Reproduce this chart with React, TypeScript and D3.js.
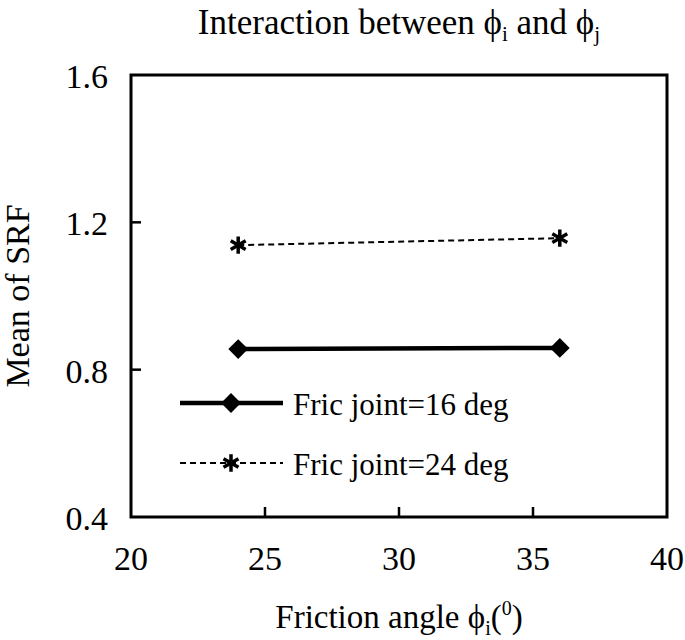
import React, { useRef, useEffect } from 'react';
import * as d3 from 'd3';

const frictionAngles = [24, 36];
const joint16 = [0.856, 0.859];
const joint24 = [1.138, 1.157];
const xTicks = [20, 25, 30, 35, 40];
const yTicks = [0.4, 0.8, 1.2, 1.6];
const seriesNames = ['Fric joint=16 deg', 'Fric joint=24 deg'];

const App = () => {
    const svgRef = useRef<SVGSVGElement>(null);

    const totalWidth = 685;
    const totalHeight = 640;
    const margin = { top: 75, right: 18, bottom: 123, left: 131 };
    const width = totalWidth - margin.left - margin.right;
    const height = totalHeight - margin.top - margin.bottom;
    const font = '"Liberation Serif", "Times New Roman", serif';

    useEffect(() => {
        document.body.style.margin = '0';
        const svg = d3.select(svgRef.current);
        svg.selectAll('*').remove();

        const x = d3.scaleLinear().domain([20, 40]).range([0, width]);
        const y = d3.scaleLinear().domain([0.4, 1.6]).range([height, 0]);

        const g = svg.append('g')
            .attr('transform', `translate(${margin.left}, ${margin.top})`);

        // frame
        g.append('rect')
            .attr('width', width)
            .attr('height', height)
            .attr('fill', 'none')
            .attr('stroke', '#000')
            .attr('stroke-width', 3);

        // inner ticks
        g.selectAll('.xtick')
            .data(xTicks.slice(1, -1))
            .enter()
            .append('line')
            .attr('x1', d => x(d)).attr('x2', d => x(d))
            .attr('y1', height).attr('y2', height - 10)
            .attr('stroke', '#000').attr('stroke-width', 2.5);

        g.selectAll('.ytick')
            .data(yTicks.slice(1, -1))
            .enter()
            .append('line')
            .attr('x1', 0).attr('x2', 10)
            .attr('y1', d => y(d)).attr('y2', d => y(d))
            .attr('stroke', '#000').attr('stroke-width', 2.5);

        // tick labels
        g.selectAll('.xlabel')
            .data(xTicks)
            .enter()
            .append('text')
            .attr('x', d => x(d))
            .attr('y', height + 53)
            .attr('text-anchor', 'middle')
            .style('font-family', font)
            .style('font-size', '34px')
            .text(d => d);

        g.selectAll('.ylabel')
            .data(yTicks)
            .enter()
            .append('text')
            .attr('x', -23)
            .attr('y', d => y(d))
            .attr('dy', '0.38em')
            .attr('text-anchor', 'end')
            .style('font-family', font)
            .style('font-size', '34px')
            .text(d => d3.format('.1f')(d));

        const line = d3.line<number>()
            .x((d, i) => x(frictionAngles[i]))
            .y(d => y(d));

        // series 24 deg - dashed with asterisks
        g.append('path')
            .datum(joint24)
            .attr('d', line)
            .attr('fill', 'none')
            .attr('stroke', '#000')
            .attr('stroke-width', 2)
            .attr('stroke-dasharray', '6,4');

        // series 16 deg - thick solid with diamonds
        g.append('path')
            .datum(joint16)
            .attr('d', line)
            .attr('fill', 'none')
            .attr('stroke', '#000')
            .attr('stroke-width', 4.5);

        const diamond = d3.symbol().type(d3.symbolDiamond2).size(250);
        const asterisk = d3.symbol().type(d3.symbolAsterisk).size(210);

        g.selectAll('.m16')
            .data(joint16)
            .enter()
            .append('path')
            .attr('d', diamond)
            .attr('transform', (d, i) => `translate(${x(frictionAngles[i])}, ${y(d)})`)
            .attr('fill', '#000');

        g.selectAll('.m24')
            .data(joint24)
            .enter()
            .append('path')
            .attr('d', asterisk)
            .attr('transform', (d, i) => `translate(${x(frictionAngles[i])}, ${y(d)})`)
            .attr('fill', 'none')
            .attr('stroke', '#000')
            .attr('stroke-width', 3.5);

        // legend
        const legend = g.append('g').attr('transform', `translate(49, 328)`);
        const items = legend.selectAll('.legend-item')
            .data(seriesNames)
            .enter()
            .append('g')
            .attr('transform', (d, i) => `translate(0, ${i * 60})`);

        items.append('line')
            .attr('x1', 0).attr('x2', 103)
            .attr('y1', 0).attr('y2', 0)
            .attr('stroke', '#000')
            .attr('stroke-width', (d, i) => (i === 0 ? 4.5 : 2))
            .attr('stroke-dasharray', (d, i) => (i === 0 ? null : '6,4'));

        items.append('path')
            .attr('d', (d, i) => (i === 0 ? diamond() : asterisk()))
            .attr('transform', 'translate(51, 0)')
            .attr('fill', (d, i) => (i === 0 ? '#000' : 'none'))
            .attr('stroke', (d, i) => (i === 0 ? 'none' : '#000'))
            .attr('stroke-width', 3.5);

        items.append('text')
            .attr('x', 113)
            .attr('y', 0)
            .attr('dy', '0.38em')
            .style('font-family', font)
            .style('font-size', '31px')
            .text(d => d);

        // title
        const title = svg.append('text')
            .attr('x', margin.left + width / 2)
            .attr('y', 34)
            .attr('text-anchor', 'middle')
            .style('font-family', font)
            .style('font-size', '35px');
        title.append('tspan').text('Interaction between ϕ');
        title.append('tspan').attr('font-size', '21px').attr('dy', 7).text('i');
        title.append('tspan').attr('dy', -7).text(' and ϕ');
        title.append('tspan').attr('font-size', '21px').attr('dy', 7).text('j');

        // x axis title
        const xt = svg.append('text')
            .attr('x', margin.left + width / 2)
            .attr('y', 628)
            .attr('text-anchor', 'middle')
            .style('font-family', font)
            .style('font-size', '33px');
        xt.append('tspan').text('Friction angle ϕ');
        xt.append('tspan').attr('font-size', '20px').attr('dy', 7).text('i');
        xt.append('tspan').attr('dy', -7).text('(');
        xt.append('tspan').attr('font-size', '20px').attr('dy', -13).text('0');
        xt.append('tspan').attr('dy', 13).text(')');

        // y axis title
        svg.append('text')
            .attr('transform', `translate(29, ${margin.top + height / 2}) rotate(-90)`)
            .attr('text-anchor', 'middle')
            .style('font-family', font)
            .style('font-size', '34px')
            .text('Mean of SRF');
    }, []);

    return (
        <svg
            ref={svgRef}
            width={totalWidth}
            height={totalHeight}
            style={{ display: 'block', background: '#fff' }}
        ></svg>
    );
};

export default App;
